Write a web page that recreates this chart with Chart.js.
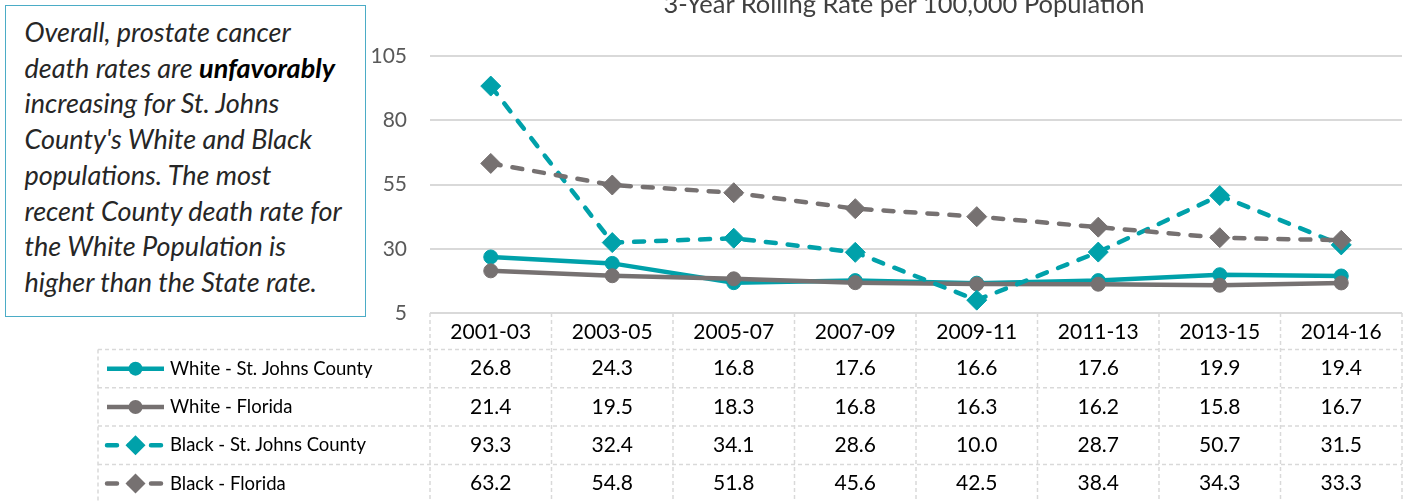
<!DOCTYPE html>
<html>
<head>
<meta charset="utf-8">
<script src="https://cdn.jsdelivr.net/npm/chart.js@4/dist/chart.umd.min.js"></script>
<style>
    html, body { margin: 0; padding: 0; background: #fff; }
    #wrap { position: relative; width: 1413px; height: 501px; overflow: hidden; }
    #chart { position: absolute; left: 0; top: 0; }
    #title {
        position: absolute; left: 554px; top: -9.5px; width: 700px; text-align: center;
        font: 25.5px Lato; line-height: 25.5px; color: #404040; white-space: nowrap;
    }
    #note {
        position: absolute; left: 5px; top: 5px; width: 361px; height: 312px;
        box-sizing: border-box; border: 1.5px solid #4bacc6; background: #fff;
        padding: 8px 0 0 18.5px; font: italic 27px Lato; line-height: 35.7px; color: #262626;
        white-space: nowrap;
    }
    #note b { color: #000; }
</style>
</head>
<body>
<div id="wrap">
    <canvas id="chart" width="1413" height="501"></canvas>
    <div id="title">3-Year Rolling Rate per 100,000 Population</div>
    <div id="note">Overall, prostate cancer<br>death rates are <b>unfavorably</b><br>increasing for St. Johns<br>County's White and Black<br>populations. The most<br>recent County death rate for<br>the White Population is<br>higher than the State rate.</div>
</div>
<script>
// Data
const categories = ['2001-03', '2003-05', '2005-07', '2007-09', '2009-11', '2011-13', '2013-15', '2014-16'];
const whiteStJohns = [26.8, 24.3, 16.8, 17.6, 16.6, 17.6, 19.9, 19.4];
const whiteFlorida = [21.4, 19.5, 18.3, 16.8, 16.3, 16.2, 15.8, 16.7];
const blackStJohns = [93.3, 32.4, 34.1, 28.6, 10.0, 28.7, 50.7, 31.5];
const blackFlorida = [63.2, 54.8, 51.8, 45.6, 42.5, 38.4, 34.3, 33.3];
const seriesNames = ['White - St. Johns County', 'White - Florida', 'Black - St. Johns County', 'Black - Florida'];
const yTicks = [5, 30, 55, 80, 105];

const TEAL = '#00a1aa';
const GRAY = '#767171';
const DASH = [10, 12];

function series(label, data, color, dashed, order) {
    return {
        label, data, order,
        borderColor: color,
        backgroundColor: color,
        borderWidth: 4.5,
        borderDash: dashed ? DASH : [],
        borderCapStyle: dashed ? 'round' : 'butt',
        pointStyle: dashed ? 'rectRot' : 'circle',
        pointRadius: dashed ? 10 : 7,
        pointBackgroundColor: color,
        pointBorderColor: color,
        pointBorderWidth: 1,
        tension: 0
    };
}

// Data table under the plot, aligned to the x scale
const tablePlugin = {
    id: 'dataTable',
    afterDraw(chart) {
        const { ctx, chartArea: a, scales: { x } } = chart;
        const colW = (a.right - a.left) / categories.length;
        const headTop = a.bottom;
        const headBottom = headTop + 36.5;
        const rowH = 38.3;
        const legLeft = 98;
        const bottom = chart.height;

        const line = (x1, y1, x2, y2) => {
            ctx.beginPath(); ctx.moveTo(x1, y1); ctx.lineTo(x2, y2); ctx.stroke();
        };

        ctx.save();
        ctx.strokeStyle = '#d9d9d9';
        ctx.lineWidth = 1.5;
        ctx.setLineDash([4, 3]);
        for (let r = 0; r < 4; r++) {
            const y = headBottom + r * rowH;
            line(legLeft, y, a.right, y);
        }
        line(legLeft, headBottom, legLeft, bottom);
        for (let i = 0; i <= categories.length; i++) {
            const xx = a.left + i * colW;
            line(xx, headTop, xx, bottom);
        }

        ctx.setLineDash([]);
        ctx.fillStyle = '#000';
        ctx.font = '21px Lato';
        ctx.textAlign = 'center';
        ctx.textBaseline = 'middle';
        categories.forEach((c, i) => ctx.fillText(c, x.getPixelForValue(i), (headTop + headBottom) / 2 + 1));

        chart.data.datasets.forEach((ds, r) => {
            const yc = headBottom + r * rowH + rowH / 2;
            ctx.fillStyle = '#000';
            ctx.textAlign = 'center';
            ctx.font = '21px Lato';
            ds.data.forEach((v, i) => ctx.fillText(v.toFixed(1), x.getPixelForValue(i), yc));

            // legend key
            ctx.strokeStyle = ds.borderColor;
            ctx.lineWidth = ds.borderWidth;
            ctx.lineCap = ds.borderCapStyle;
            ctx.setLineDash(ds.borderDash);
            line(107, yc, 164, yc);
            ctx.setLineDash([]);
            ctx.fillStyle = ds.borderColor;
            const mx = 135.5;
            ctx.beginPath();
            if (ds.pointStyle === 'circle') {
                ctx.arc(mx, yc, 7, 0, Math.PI * 2);
            } else {
                ctx.moveTo(mx, yc - 10); ctx.lineTo(mx + 10, yc);
                ctx.lineTo(mx, yc + 10); ctx.lineTo(mx - 10, yc);
                ctx.closePath();
            }
            ctx.fill();

            ctx.fillStyle = '#000';
            ctx.textAlign = 'left';
            ctx.font = '18.5px Lato';
            ctx.fillText(ds.label, 170, yc);
        });
        ctx.restore();
    }
};

new Chart(document.getElementById('chart'), {
    type: 'line',
    data: {
        labels: categories,
        datasets: [
            series(seriesNames[0], whiteStJohns, TEAL, false, 4),
            series(seriesNames[1], whiteFlorida, GRAY, false, 3),
            series(seriesNames[2], blackStJohns, TEAL, true, 2),
            series(seriesNames[3], blackFlorida, GRAY, true, 1)
        ]
    },
    options: {
        responsive: false,
        animation: false,
        layout: { padding: { left: 370, right: 5, top: 56, bottom: 188 } },
        plugins: { legend: { display: false }, tooltip: { enabled: false } },
        scales: {
            x: { display: false, offset: true },
            y: {
                min: 5, max: 105,
                afterBuildTicks: s => { s.ticks = yTicks.map(v => ({ value: v })); },
                afterFit: s => { s.width = 60; },
                border: { display: false },
                grid: { color: '#d9d9d9', lineWidth: 2, drawTicks: false },
                ticks: { padding: 23, color: '#595959', font: { family: 'Lato', size: 21 } }
            }
        }
    },
    plugins: [tablePlugin]
});
</script>
</body>
</html>
